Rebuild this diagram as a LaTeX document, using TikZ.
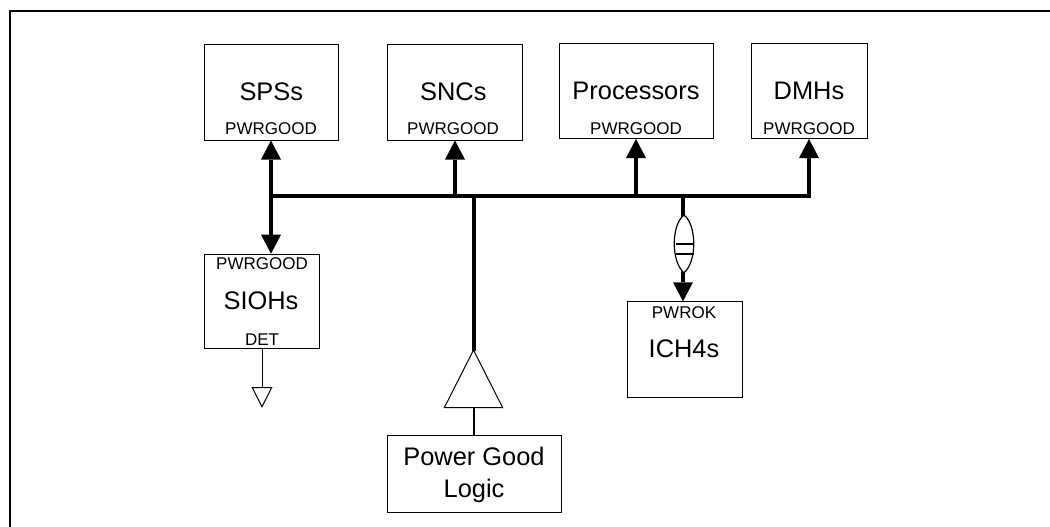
\documentclass[tikz,border=0pt]{standalone}
\usepackage{fontspec}
\setmainfont{Liberation Sans}
\usetikzlibrary{arrows.meta}
\tikzset{
  x=1pt,y=-1pt,
  box/.style={draw,line width=1pt,fill=white,inner sep=0pt,anchor=north west},
  biglabel/.style={font=\fontsize{25.4}{32}\selectfont,inner sep=0pt,align=center,anchor=base},
  smalllabel/.style={font=\fontsize{17}{20}\selectfont,inner sep=0pt,anchor=base},
  bus/.style={line width=4.2pt},
  tipbus/.style={line width=4.2pt,-{Triangle[length=19pt,width=20pt,line width=0pt]}},
  thin wire/.style={line width=1pt},
  triangle shape/.style={draw,line width=1pt,fill=white,line join=miter},
}
\begin{document}
\begin{tikzpicture}
\useasboundingbox (0,0) rectangle (1050,527);
\fill[white] (0,0) rectangle (1050,527);
\draw[line width=2.2pt] (10,527) -- (10,11) -- (1050,11);
% boxes
\node[box,minimum width=134.3pt,minimum height=95.5pt] (sps) at (204,44) {};
\node[box,minimum width=135pt,minimum height=95.5pt] (snc) at (386.7,44) {};
\node[box,minimum width=154pt,minimum height=95.3pt] (proc) at (559.3,42.7) {};
\node[box,minimum width=115.7pt,minimum height=95.3pt] (dmh) at (751,42.7) {};
\node[box,minimum width=115.3pt,minimum height=94.5pt] (sioh) at (204,253.7) {};
\node[box,minimum width=115.6pt,minimum height=95.7pt] (ich) at (626.7,301.3) {};
\node[box,minimum width=173.7pt,minimum height=76.7pt] (pgl) at (387.3,435.3) {};
% labels
\node[biglabel] (t1) at (271.3,100) {SPSs};
\node[biglabel] (t2) at (453.3,100) {SNCs};
\node[biglabel] (t3) at (636,99.3) {Processors};
\node[biglabel] (t4) at (809,99.3) {DMHs};
\node[smalllabel] (p1) at (271,134.3) {PWRGOOD};
\node[smalllabel] (p2) at (453,134.3) {PWRGOOD};
\node[smalllabel] (p3) at (636,134.5) {PWRGOOD};
\node[smalllabel] (p4) at (809,134.5) {PWRGOOD};
\node[smalllabel] (p5) at (262,269) {PWRGOOD};
\node[biglabel] (t5) at (261,309) {SIOHs};
\node[smalllabel] (d) at (262,345) {DET};
\node[smalllabel] (p6) at (684,318.3) {PWROK};
\node[biglabel] (t6) at (684,357.7) {ICH4s};
\node[biglabel] (t7) at (474,497) {Power Good\\Logic};
% bus
\coordinate (busL) at (271,196);
\coordinate (busR) at (809,196);
\coordinate (j2) at (455,196);
\coordinate (j3) at (636,196);
\coordinate (j4) at (474,196);
\coordinate (j5) at (683,196);
\draw[bus,line cap=butt] ([xshift=-2.1pt]busL) -- ([xshift=2.1pt]busR);
\draw[tipbus] ([yshift=2pt]busL) -- (sps.south -| busL);
\draw[tipbus] (busL) -- (sioh.north -| busL);
\draw[tipbus] ([yshift=2pt]j2) -- (snc.south -| j2);
\draw[tipbus] ([yshift=2pt]j3) -- (proc.south -| j3);
\draw[tipbus] ([yshift=2pt]busR) -- (dmh.south -| busR);
% buffer
\coordinate (buftop) at (473.5,350);
\draw[bus] (j4) -- (474,351);
\draw[triangle shape] (buftop) -- (444.3,407.7) -- (502.7,407.7) -- cycle;
\draw[line width=2pt] (473.7,407.7) -- (pgl.north -| 473.7,0);
% ICH line
\draw[tipbus] (j5) -- (ich.north -| j5);
\draw[line width=1.2pt,fill=white] (684,215) .. controls (671,225) and (671,262) .. (684,272.7) .. controls (697,262) and (697,225) .. (684,215) -- cycle;
\draw[line width=1.2pt] (675.5,244) -- (693.5,244) (675.5,254) -- (693.5,254);
% DET
\coordinate (gndtop) at (262,387.7);
\draw[thin wire] (sioh.south -| gndtop) -- (gndtop);
\draw[triangle shape] (252.3,387.7) -- (271.7,387.7) -- (262,406.7) -- cycle;
\end{tikzpicture}
\end{document}
